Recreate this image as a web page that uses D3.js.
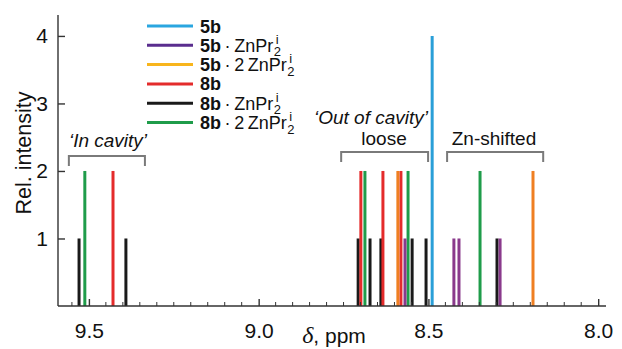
<!DOCTYPE html>
<html>
<head>
<meta charset="utf-8">
<script src="https://cdn.jsdelivr.net/npm/d3@7"></script>
<style>
  body { margin: 0; background: #fff; }
  text { font-family: "Liberation Sans", Arial, sans-serif; fill: #111; }
</style>
</head>
<body>
<div class="nmr-chart"></div>
<script>
// peak lists (shift in ppm, relative intensity)
const seriesNames = ["5b", "5b·ZnPr2", "5b·2ZnPr2", "8b", "8b·ZnPr2", "8b·2ZnPr2"]
const shifts5b = [8.489]
const int5b = [4]
const shifts5bZn = [8.569, 8.425, 8.410, 8.289]
const int5bZn = [1, 1, 1, 1]
const shifts5b2Zn = [8.590, 8.192]
const int5b2Zn = [2, 2]
const shifts8b = [9.429, 8.699, 8.634, 8.581]
const int8b = [2, 2, 2, 2]
const shifts8bZn = [9.529, 9.391, 8.707, 8.672, 8.640, 8.548, 8.507, 8.298]
const int8bZn = [1, 1, 1, 1, 1, 1, 1, 1]
const shifts8b2Zn = [9.512, 8.687, 8.560, 8.348]
const int8b2Zn = [2, 2, 2, 2]

const xTicks = [9.5, 9.0, 8.5, 8.0]
const yTicks = [1, 2, 3, 4]

const peakColors = ["#2a9fd8", "#8a3a8c", "#ef7f22", "#e42b2b", "#1a1a1a", "#1f9c4a"]
const legendColors = ["#2aa6e0", "#5a2d8e", "#f8b51c", "#e42b2b", "#1a1a1a", "#1f9c4a"]

const allShifts = [shifts5b, shifts5bZn, shifts5b2Zn, shifts8b, shifts8bZn, shifts8b2Zn]
const allInts = [int5b, int5bZn, int5b2Zn, int8b, int8bZn, int8b2Zn]

const width = 622
const height = 349

const svg = d3.select(".nmr-chart").append("svg")
    .attr("width", width)
    .attr("height", height)
    .attr("viewBox", [0, 0, width, height])

const x = d3.scaleLinear()
    .domain([9.591, 7.977])
    .range([58, 606])

const y = d3.scaleLinear()
    .domain([0, 4.31])
    .range([306, 15])

// peaks (draw black first so coloured sticks sit above it)
const drawOrder = [4, 3, 5, 2, 1, 0]
const peaks = []
drawOrder.forEach(s => {
    allShifts[s].forEach((v, i) => peaks.push({s: s, ppm: v, h: allInts[s][i]}))
})

svg.append("g")
    .selectAll("line")
    .data(peaks)
    .join("line")
        .attr("x1", d => x(d.ppm))
        .attr("x2", d => x(d.ppm))
        .attr("y1", y(0))
        .attr("y2", d => y(d.h))
        .style("stroke", d => peakColors[d.s])
        .style("stroke-width", 3)

// x axis with inward ticks
const xAxis = svg.append("g")
    .attr("transform", `translate(0,${y(0)})`)
    .call(d3.axisBottom(x)
        .tickValues(xTicks)
        .tickFormat(d3.format(".1f"))
        .tickSize(-7)
        .tickPadding(17))
xAxis.select(".domain").attr("d", `M${x.range()[0]},0H${x.range()[1]}`)
xAxis.selectAll(".tick text").style("font-size", "21px")

const minor = d3.range(9.55, 7.97, -0.05).filter(v => !xTicks.some(t => Math.abs(t - v) < 1e-6))
xAxis.append("g")
    .selectAll("line")
    .data(minor)
    .join("line")
        .attr("x1", d => x(d))
        .attr("x2", d => x(d))
        .attr("y1", 0)
        .attr("y2", -4)
        .attr("stroke", "#333")

// y axis
const yAxis = svg.append("g")
    .attr("transform", `translate(${x.range()[0]},0)`)
    .call(d3.axisLeft(y)
        .tickValues(yTicks)
        .tickFormat(d3.format("d"))
        .tickSize(-7)
        .tickPadding(10))
yAxis.select(".domain").attr("d", `M0,${y.range()[0]}V${y.range()[1]}`)
yAxis.selectAll(".tick text").style("font-size", "21px")

svg.selectAll(".domain, .tick line")
    .attr("stroke", "#333")
    .attr("stroke-width", 1.4)

// axis titles
svg.append("text")
    .attr("transform", "translate(31,153) rotate(-90)")
    .attr("text-anchor", "middle")
    .style("font-size", "21.5px")
    .text("Rel. intensity")

const xl = svg.append("text")
    .attr("x", 334)
    .attr("y", 343)
    .attr("text-anchor", "middle")
    .style("font-size", "21px")
xl.append("tspan")
    .style("font-family", "'Liberation Serif', 'DejaVu Serif', serif")
    .style("font-style", "italic")
    .style("font-size", "24px")
    .text("δ")
xl.append("tspan").text(", ppm")

// legend
const legend = svg.append("g")
seriesNames.forEach((name, i) => {
    const ly = 26 + i * 19.3
    legend.append("line")
        .attr("x1", 147).attr("x2", 193)
        .attr("y1", ly).attr("y2", ly)
        .attr("stroke", legendColors[i])
        .attr("stroke-width", 3)

    const base = name.slice(0, 2)
    const rest = name.slice(2).replace("2ZnPr2", "2\u2009ZnPr2")
    const t = legend.append("text")
        .attr("x", 200)
        .attr("y", ly + 6.5)
        .style("font-size", "18px")
    t.append("tspan").style("font-weight", "bold").text(base)
    if (rest) {
        t.append("tspan").text(rest.replace("·", "\u2009·\u2009").slice(0, -1))
        const end = 200 + t.node().getComputedTextLength()
        legend.append("text")
            .attr("x", end + 0.5)
            .attr("y", ly + 11)
            .style("font-size", "13px")
            .text("2")
        legend.append("text")
            .attr("x", end + 2.5)
            .attr("y", ly - 1.5)
            .style("font-size", "13px")
            .text("i")
    }
})

// region brackets and labels
function bracket(from, to, top) {
    const x0 = x(from), x1 = x(to)
    svg.append("path")
        .attr("d", `M${x0},${top + 10}V${top}H${x1}V${top + 10}`)
        .attr("fill", "none")
        .attr("stroke", "#7a7a7a")
        .attr("stroke-width", 2)
}
bracket(9.559, 9.335, 156)
bracket(8.757, 8.501, 152)
bracket(8.445, 8.162, 152)

svg.append("text")
    .attr("x", 108).attr("y", 147)
    .attr("text-anchor", "middle")
    .style("font-size", "19px")
    .style("font-style", "italic")
    .text("\u2018In cavity\u2019")

svg.append("text")
    .attr("x", 371).attr("y", 124)
    .attr("text-anchor", "middle")
    .style("font-size", "19px")
    .style("font-style", "italic")
    .text("\u2018Out of cavity\u2019")

svg.append("text")
    .attr("x", 384).attr("y", 145)
    .attr("text-anchor", "middle")
    .style("font-size", "19px")
    .text("loose")

svg.append("text")
    .attr("x", 494).attr("y", 145)
    .attr("text-anchor", "middle")
    .style("font-size", "19px")
    .text("Zn-shifted")
</script>
</body>
</html>
